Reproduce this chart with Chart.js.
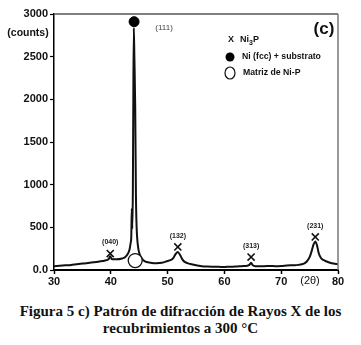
<!DOCTYPE html>
<html><head><meta charset="utf-8">
<script src="https://cdn.jsdelivr.net/npm/chart.js@4/dist/chart.umd.min.js"></script>
<style>
html,body{margin:0;padding:0;background:#fff;}
#wrap{position:relative;width:361px;height:345px;overflow:hidden;background:#fff;}
#c{position:absolute;left:0;top:0;}
#cap{position:absolute;left:0;top:303px;width:361px;text-align:center;font:bold 15px "Liberation Serif","Times New Roman",serif;line-height:17px;color:#111;}
</style></head><body>
<div id="wrap"><canvas id="c" width="361" height="292"></canvas>
<div id="cap">Figura 5 c) Patrón de difracción de Rayos X de los<br>recubrimientos a 300 °C</div></div>
<script>
// Diffraction pattern (2θ in degrees, intensity in counts)
const twoTheta = [30,31,32,33,34,35,36,37,38,39,39.6,39.9,40.2,41,42,42.5,43,43.3,43.5,43.6,43.7,43.78,43.88,43.95,44.05,44.15,44.3,44.42,44.5,44.6,44.75,44.9,45.1,45.5,46,47,48,49,50,50.5,51,51.4,51.8,52.2,52.6,53,54,55,56,57,58,59,60,61,62,63,64,64.4,64.7,65,65.5,66,67,68,69,70,71,72,73,74,74.5,75,75.4,75.7,76,76.3,76.6,77,77.5,78,78.6,79.2,80];
const counts   = [45,50,55,60,68,75,82,90,100,112,125,160,125,125,135,150,190,240,320,380,720,480,900,1800,2840,2500,1900,900,600,420,300,230,180,130,100,86,80,85,105,115,140,185,210,175,125,95,70,55,45,40,38,37,35,38,40,45,50,60,85,55,45,45,45,47,45,47,52,56,60,75,100,150,230,300,335,290,200,140,115,100,85,75,68];

// Ni3P reflections
const ni3pPos   = [39.9, 51.8, 64.7, 76.0];
const ni3pLevel = [193, 270, 152, 387];
const ni3pHkl   = ['(040)','(132)','(313)','(231)'];
// Ni (fcc) + substrate
const niFccPos   = [44.1];
const niFccLevel = [2910];
const niFccHkl   = ['(111)'];
// Ni-P matrix
const matrixPos   = [44.3];
const matrixLevel = [110];

// Axes
const xTicks = [30,40,50,60,70,80];
const yTicks = [0,500,1000,1500,2000,2500,3000];
const yTitle = '(counts)';
const xTitle = '(2θ)';
const panelTag = '(c)';
const legendItems = ['Ni (fcc) + substrato','Matriz de Ni-P'];

const SANS = '"Liberation Sans", Arial, sans-serif';

const annot = {
  id:'annot',
  afterDraw(chart){
    const {ctx, chartArea:a, scales:{x,y}} = chart;
    ctx.save();
    // top & right frame
    ctx.lineWidth = 1.5;
    ctx.strokeStyle = '#555';
    ctx.beginPath(); ctx.moveTo(a.left, a.top); ctx.lineTo(a.right, a.top); ctx.stroke();
    ctx.strokeStyle = '#777';
    ctx.beginPath(); ctx.moveTo(a.right, a.top); ctx.lineTo(a.right, a.bottom); ctx.stroke();

    ctx.textAlign = 'center'; ctx.textBaseline = 'middle';
    // hkl labels above Ni3P markers
    ctx.fillStyle = '#222'; ctx.font = 'bold 7px ' + SANS;
    ni3pPos.forEach((p,i)=>{
      ctx.fillText(ni3pHkl[i], x.getPixelForValue(p), y.getPixelForValue(ni3pLevel[i]) - 11);
    });
    // (111)
    ctx.fillStyle = '#444'; ctx.font = '8px ' + SANS;
    ctx.fillText(niFccHkl[0], x.getPixelForValue(niFccPos[0]) + 30, y.getPixelForValue(niFccLevel[0]) + 6);

    // y title
    ctx.fillStyle = '#111'; ctx.font = 'bold 10.5px ' + SANS;
    ctx.fillText(yTitle, 28, 33);
    // x title
    ctx.font = '11px ' + SANS;
    ctx.fillText(xTitle, 310, 281);
    // panel tag
    ctx.font = 'bold 17px ' + SANS;
    ctx.fillText(panelTag, 324, 29);

    // legend
    const lx = 230;
    ctx.font = 'bold 9px ' + SANS;
    ctx.fillText('X', lx + 1, 40);
    ctx.textAlign = 'left';
    ctx.fillText('Ni', 240, 40);
    let w = ctx.measureText('Ni').width;
    ctx.font = 'bold 7px ' + SANS;
    ctx.fillText('3', 240 + w, 43);
    let w2 = ctx.measureText('3').width;
    ctx.font = 'bold 9px ' + SANS;
    ctx.fillText('P', 240 + w + w2, 40);

    ctx.fillStyle = '#000';
    ctx.beginPath(); ctx.arc(lx, 57, 4.5, 0, Math.PI*2); ctx.fill();
    ctx.fillStyle = '#111'; ctx.font = 'bold 8.7px ' + SANS;
    ctx.fillText(legendItems[0], 242, 57);

    ctx.strokeStyle = '#111'; ctx.lineWidth = 1.2;
    ctx.beginPath(); ctx.ellipse(lx, 73, 5, 6, 0, 0, Math.PI*2); ctx.stroke();
    ctx.fillText(legendItems[1], 243, 73);
    ctx.restore();
  }
};

new Chart(document.getElementById('c'), {
  type: 'line',
  data: { datasets: [
    { type:'scatter', data: ni3pPos.map((p,i)=>({x:p, y:ni3pLevel[i]})), pointStyle:'crossRot', pointRadius:5, borderColor:'#111', borderWidth:1.6, order:1 },
    { type:'scatter', data: niFccPos.map((p,i)=>({x:p, y:niFccLevel[i]})), pointStyle:'circle', pointRadius:5, backgroundColor:'#000', borderColor:'#000', borderWidth:1, order:1 },
    { type:'scatter', data: matrixPos.map((p,i)=>({x:p, y:matrixLevel[i]})), pointStyle:'circle', pointRadius:7, backgroundColor:'#fff', borderColor:'#111', borderWidth:1.3, order:1 },
    { data: twoTheta.map((t,i)=>({x:t, y:counts[i]})), borderColor:'#111', borderWidth:2, pointRadius:0, cubicInterpolationMode:'monotone', fill:false, order:5 }
  ]},
  options: {
    responsive:false, animation:false, events:[],
    layout:{ padding:{ left:0, right:23, top:14, bottom:0 } },
    plugins:{ legend:{display:false}, tooltip:{enabled:false} },
    scales: {
      x: {
        type:'linear', min:30, max:80,
        afterBuildTicks: s => { s.ticks = xTicks.map(v=>({value:v})); },
        afterFit: s => { s.height = 22; },
        ticks:{ color:'#111', font:{ family:SANS, size:11, weight:'bold' }, padding:1, maxRotation:0, autoSkip:false },
        grid:{ drawOnChartArea:false, tickLength:4, color:'#000', tickWidth:1.5 },
        border:{ color:'#000', width:2 }
      },
      y: {
        type:'linear', min:0, max:3000,
        afterBuildTicks: s => { s.ticks = yTicks.map(v=>({value:v})); },
        afterFit: s => { s.width = 54; },
        ticks:{ color:'#111', font:{ family:SANS, size:11, weight:'bold' }, padding:2, callback: v => v === 0 ? '0.0' : String(v) },
        grid:{ drawOnChartArea:false, tickLength:4, color:'#000', tickWidth:1.2 },
        border:{ color:'#000', width:1.5 }
      }
    }
  },
  plugins:[annot]
});
</script>
</body></html>
